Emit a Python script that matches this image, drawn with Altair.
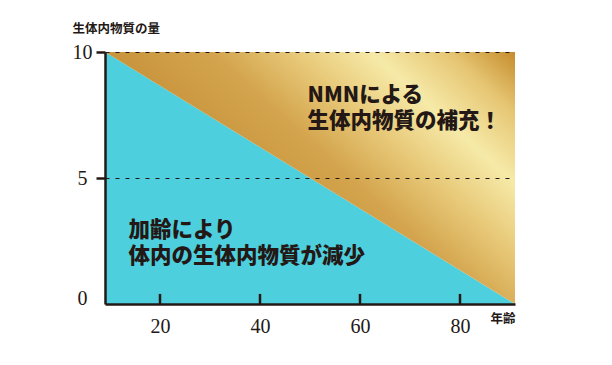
import altair as alt
import pandas as pd

# --- data ---
ages = [9, 91]
level = [10, 0]
top_level = [10, 10]
bottom_level = [0, 0]
x_ticks = [20, 40, 60, 80]
y_ticks = [0, 5, 10]
tick_base = [0, 0, 0, 0]
tick_top = [0.4, 0.4, 0.4, 0.4]

note_text = ["加齢により", "体内の生体内物質が減少", "NMNによる", "生体内物質の補充！"]
note_x = [13.7, 13.7, 49.5, 49.5]
note_y = [2.9, 1.87, 8.25, 7.22]

INK = "#231815"
CYAN = "#4ecfde"

df = pd.DataFrame({"age": ages, "level": level, "top": top_level, "bottom": bottom_level})
ticks_df = pd.DataFrame({"age": x_ticks, "y0": tick_base, "y1": tick_top})
notes_df = pd.DataFrame({"text": note_text, "x": note_x, "y": note_y})

xscale = alt.Scale(domain=[9, 91], nice=False, zero=False)
yscale = alt.Scale(domain=[0, 10], nice=False)

x_axis = alt.Axis(
    values=x_ticks, ticks=False, tickSize=0, grid=False,
    labelFont="Liberation Serif", labelFontSize=20, labelColor=INK, labelPadding=12,
    domainColor=INK, domainWidth=2.5,
    title="年齢", titleFont="Noto Sans CJK JP", titleFontSize=12.5, titleFontWeight="bold",
    titleColor=INK, titleAngle=0, titleAlign="left", titleBaseline="middle",
    titleX=385, titleY=14, zindex=1,
)
y_axis = alt.Axis(
    values=y_ticks, tickSize=9, tickWidth=2.5, tickColor=INK,
    tickOpacity=alt.ExprRef(expr="datum.value == 0 ? 0 : 1"),
    grid=True, gridDash=[4, 6], gridColor=INK, gridWidth=1.2,
    gridOpacity=alt.ExprRef(expr="datum.value == 0 ? 0 : 1"),
    labelFont="Liberation Serif", labelFontSize=20, labelColor=INK,
    labelAlign="center", labelPadding=14,
    labelBaseline=alt.ExprRef(expr="datum.value == 0 ? 'alphabetic' : 'middle'"),
    domainColor=INK, domainWidth=2.5,
    title="生体内物質の量", titleFont="Noto Sans CJK JP", titleFontSize=12.5, titleFontWeight="bold",
    titleColor=INK, titleAngle=0, titleAlign="left", titleBaseline="middle",
    titleX=-33, titleY=-24, zindex=1,
)

base = alt.Chart(df)

cyan = base.mark_area(color=CYAN).encode(
    x=alt.X("age:Q", scale=xscale, axis=x_axis),
    y=alt.Y("level:Q", scale=yscale, axis=y_axis),
    y2="bottom:Q",
)

gold_fill = alt.LinearGradient(
    gradient="linear",
    stops=[
        alt.GradientStop(color="#b97f2a", offset=0.0),
        alt.GradientStop(color="#c8943c", offset=0.4),
        alt.GradientStop(color="#d4a54e", offset=0.56),
        alt.GradientStop(color="#e8ca7a", offset=0.68),
        alt.GradientStop(color="#f6eaa8", offset=0.79),
        alt.GradientStop(color="#e6c674", offset=0.9),
        alt.GradientStop(color="#c68c2c", offset=1.0),
    ],
    x1=0, y1=1, x2=1.15, y2=0.22,
)

gold = base.mark_area(color=gold_fill).encode(
    x=alt.X("age:Q", scale=xscale),
    y=alt.Y("level:Q", scale=yscale),
    y2="top:Q",
)

xticks = alt.Chart(ticks_df).mark_rule(color=INK, strokeWidth=2.5).encode(
    x=alt.X("age:Q", scale=xscale),
    y=alt.Y("y0:Q", scale=yscale),
    y2="y1:Q",
)

notes = alt.Chart(notes_df).mark_text(
    align="left", baseline="middle", font="Noto Sans CJK JP", fontSize=21.5,
    fontWeight=900, color=INK,
).encode(
    x=alt.X("x:Q", scale=xscale),
    y=alt.Y("y:Q", scale=yscale),
    text="text:N",
)

chart = alt.layer(cyan, gold, xticks, notes).properties(
    width=410, height=252,
    autosize=alt.AutoSizeParams(type="none"),
    padding={"left": 97, "top": 44, "right": 88, "bottom": 53},
    background="white",
).configure_view(stroke=None)

chart.save("out.html", embed_options={"renderer": "svg", "actions": False})
